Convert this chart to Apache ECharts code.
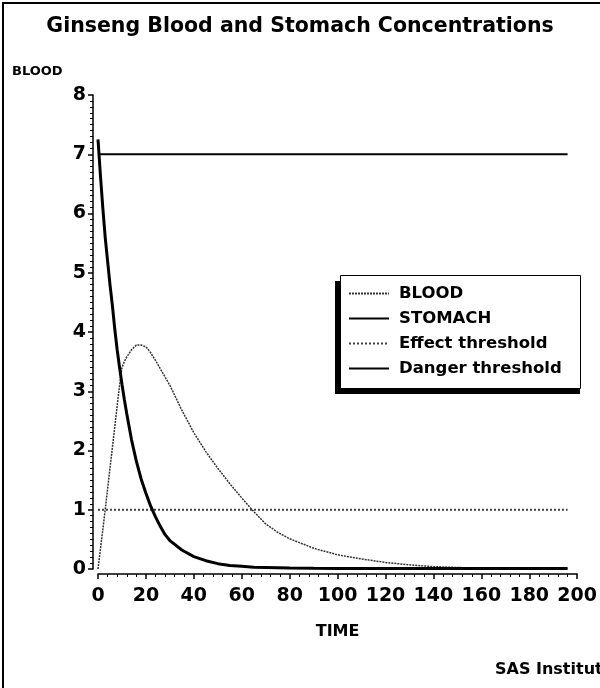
<!DOCTYPE html>
<html>
<head>
<meta charset="utf-8">
<title>Ginseng Blood and Stomach Concentrations</title>
<script src="https://cdn.jsdelivr.net/npm/echarts@6/dist/echarts.min.js"></script>
<style>
  html, body { margin: 0; padding: 0; background: #fff; }
  #chart { width: 600px; height: 688px; }
</style>
</head>
<body>
<div id="chart"></div>
<script>
// values
const times = [0, 1, 2, 3, 4, 5, 6, 7, 8, 9, 10, 11, 12, 14, 16, 18, 20, 22, 24, 26, 28, 30,
  35, 40, 45, 50, 55, 60, 65, 70, 75, 80, 90, 100, 110, 120, 130, 140, 150, 160, 170, 180, 196];
const blood = [0, 0.33, 0.66, 1.0, 1.35, 1.7, 2.05, 2.4, 2.75, 3.1, 3.4, 3.5, 3.58, 3.7, 3.78, 3.78, 3.75, 3.65, 3.52, 3.38, 3.24, 3.1,
  2.68, 2.3, 1.98, 1.7, 1.44, 1.2, 0.97, 0.76, 0.62, 0.51, 0.35, 0.24, 0.17, 0.11, 0.07, 0.04, 0.025, 0.015, 0.01, 0.01, 0.005];
const stomach = [7.25, 6.65, 6.1, 5.6, 5.2, 4.8, 4.45, 4.05, 3.7, 3.4, 3.12, 2.86, 2.62, 2.18, 1.82, 1.52, 1.28, 1.06, 0.88, 0.72, 0.58, 0.48,
  0.32, 0.21, 0.14, 0.09, 0.06, 0.045, 0.03, 0.025, 0.02, 0.015, 0.012, 0.01, 0.01, 0.01, 0.01, 0.01, 0.01, 0.01, 0.01, 0.01, 0.01];
const effectLevel = 1;
const dangerLevel = 7;
const xTicks = [0, 20, 40, 60, 80, 100, 120, 140, 160, 180, 200];
const yTicks = [0, 1, 2, 3, 4, 5, 6, 7, 8];
const legendNames = ["BLOOD", "STOMACH", "Effect threshold", "Danger threshold"];

const font = "DejaVu Sans";

function pairs(xs, ys) {
  return xs.map((t, i) => [t, ys[i]]);
}
function flat(level) {
  return [[times[0], level], [times[times.length - 1], level]];
}

var myChart = echarts.init(document.getElementById("chart"), null, { renderer: "canvas" });

let option = {
  animation: false,
  backgroundColor: "#fff",
  title: [
    {
      text: "Ginseng Blood and Stomach Concentrations",
      left: "center",
      top: 11,
      textStyle: { fontFamily: font, fontSize: 20.5, fontWeight: "bold", color: "#000" }
    },
    {
      text: "SAS Institute",
      left: 490,
      top: 657,
      textStyle: { fontFamily: font, fontSize: 16, fontWeight: "bold", color: "#000" }
    }
  ],
  graphic: [
    {
      type: "rect",
      shape: { x: 3, y: 3, width: 700, height: 700 },
      style: { fill: "none", stroke: "#000", lineWidth: 2 }
    },
    {
      type: "text",
      left: 12,
      top: 65,
      style: { text: "BLOOD", font: "bold 13px " + font, fill: "#000" }
    },
    // legend frame with its drop shadow (left / bottom)
    {
      type: "rect",
      z: 5,
      shape: { x: 335, y: 281, width: 245, height: 113 },
      style: { fill: "#000" }
    },
    {
      type: "rect",
      z: 6,
      shape: { x: 340.5, y: 275.5, width: 240, height: 113 },
      style: { fill: "#fff", stroke: "#000", lineWidth: 1 }
    }
  ],
  grid: { left: 98, right: 22, top: 95, bottom: 119 },
  legend: {
    orient: "vertical",
    left: 341,
    top: 276,
    z: 10,
    padding: [9, 10, 9, 7],
    itemGap: 8,
    itemWidth: 40,
    itemHeight: 16,
    icon: undefined,
    itemStyle: { opacity: 0 },
    textStyle: { fontFamily: font, fontSize: 16.5, fontWeight: "bold", color: "#000", padding: [0, 0, 0, 5] },
    data: legendNames
  },
  xAxis: {
    type: "value",
    min: 0,
    max: 200,
    interval: 20,
    offset: 5,
    name: "TIME",
    nameLocation: "middle",
    nameGap: 50,
    nameTextStyle: { fontFamily: font, fontSize: 16, fontWeight: "bold", color: "#000" },
    axisLine: { show: true, onZero: false, lineStyle: { color: "#000", width: 1.5 } },
    axisTick: { show: true, length: 5, lineStyle: { color: "#000", width: 1.5 } },
    minorTick: { show: true, splitNumber: 5, length: 3, lineStyle: { color: "#000", width: 1 } },
    splitLine: { show: false },
    axisLabel: {
      margin: 13,
      fontFamily: font,
      fontSize: 19,
      fontWeight: "bold",
      color: "#000",
      formatter: function(v) {
        return xTicks.indexOf(v) >= 0 ? String(v) : "";
      }
    }
  },
  yAxis: {
    type: "value",
    min: 0,
    max: 8,
    interval: 1,
    offset: 5,
    axisLine: { show: true, onZero: false, lineStyle: { color: "#000", width: 1.5 } },
    axisTick: { show: true, length: 5, lineStyle: { color: "#000", width: 1.5 } },
    minorTick: { show: true, splitNumber: 10, length: 3, lineStyle: { color: "#000", width: 1 } },
    splitLine: { show: false },
    axisLabel: {
      margin: 7,
      fontFamily: font,
      fontSize: 19,
      fontWeight: "bold",
      color: "#000",
      formatter: function(v) {
        return yTicks.indexOf(v) >= 0 ? String(v) : "";
      }
    }
  },
  series: [
    {
      name: "BLOOD",
      type: "line",
      symbol: "none",
      data: pairs(times, blood),
      itemStyle: { color: "#333" },
      lineStyle: { color: "#333", width: 1.5, type: [2, 1] },
      z: 3
    },
    {
      name: "STOMACH",
      type: "line",
      symbol: "none",
      data: pairs(times, stomach),
      itemStyle: { color: "#000" },
      lineStyle: { color: "#000", width: 3, type: "solid" },
      z: 4
    },
    {
      name: "Effect threshold",
      type: "line",
      symbol: "none",
      data: flat(effectLevel),
      itemStyle: { color: "#444" },
      lineStyle: { color: "#444", width: 1.8, type: [2, 2] },
      z: 2
    },
    {
      name: "Danger threshold",
      type: "line",
      symbol: "none",
      data: flat(dangerLevel),
      itemStyle: { color: "#000" },
      lineStyle: { color: "#000", width: 2.2, type: "solid" },
      z: 2
    }
  ]
};
myChart.setOption(option);
</script>
</body>
</html>
